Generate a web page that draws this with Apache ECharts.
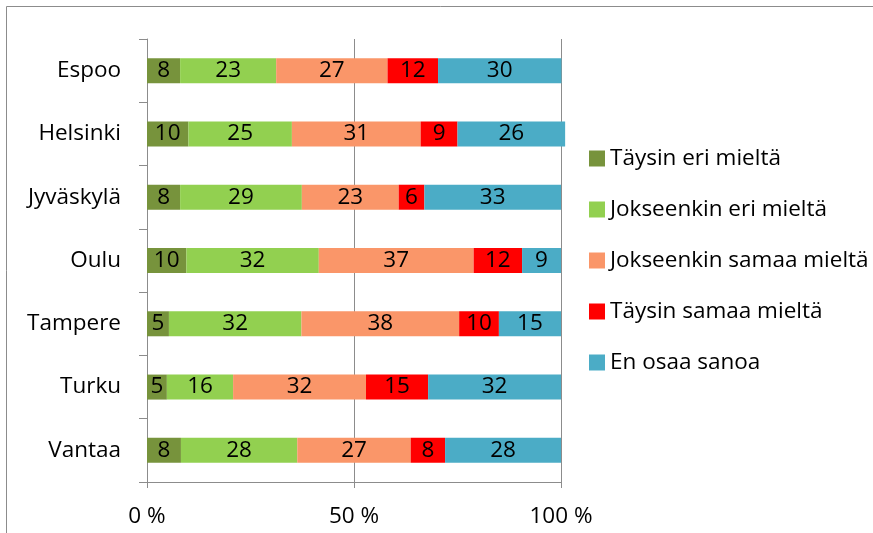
<!DOCTYPE html>
<html>
<head>
<meta charset="utf-8">
<script src="https://cdn.jsdelivr.net/npm/echarts@6/dist/echarts.min.js"></script>
<style>
  html, body { margin: 0; padding: 0; background: #fff; }
  #chart { width: 873px; height: 533px; }
</style>
</head>
<body>
<div id="chart"></div>
<script>
const cities = ['Espoo', 'Helsinki', 'Jyväskylä', 'Oulu', 'Tampere', 'Turku', 'Vantaa']
const seriesNames = ['Täysin eri mieltä', 'Jokseenkin eri mieltä', 'Jokseenkin samaa mieltä', 'Täysin samaa mieltä', 'En osaa sanoa']
const colors = ['#77933c', '#92d050', '#fa9669', '#ff0000', '#4bacc6']

// shares per city (labels show rounded values)
const taysinEri = [8.0, 10.0, 8.0, 9.5, 5.3, 4.8, 8.2]
const jokseenkinEri = [23.2, 25.0, 29.4, 32.0, 32.0, 16.0, 28.1]
const jokseenkinSamaa = [26.9, 31.1, 23.4, 37.4, 38.1, 32.1, 27.4]
const taysinSamaa = [12.2, 8.9, 6.2, 11.7, 9.6, 15.0, 8.3]
const enOsaa = [29.8, 26.0, 33.0, 9.4, 15.0, 32.1, 28.0]
const xTicks = [0, 50, 100]

const fontFamily = '"Open Sans", sans-serif'
const fontSize = 22.5
const values = [taysinEri, jokseenkinEri, jokseenkinSamaa, taysinSamaa, enOsaa]

const chart = echarts.init(document.getElementById('chart'))
chart.setOption({
  animation: false,
  textStyle: { fontFamily },
  color: colors,
  graphic: [{
    type: 'rect',
    shape: { x: 6.5, y: 6.5, width: 900, height: 600 },
    style: { fill: 'none', stroke: '#8c8c8c', lineWidth: 1 },
    silent: true
  }],
  grid: { left: 147, right: 312, top: 39, bottom: 51 },
  legend: {
    orient: 'vertical',
    left: 584,
    top: 142,
    icon: 'rect',
    itemWidth: 16,
    itemHeight: 16,
    itemGap: 28,
    data: seriesNames,
    textStyle: { fontFamily, fontSize, color: '#000', lineHeight: 22 }
  },
  xAxis: {
    type: 'value',
    min: xTicks[0],
    max: xTicks[xTicks.length - 1],
    interval: 50,
    axisLine: { show: true, lineStyle: { color: '#8c8c8c', width: 1 } },
    axisTick: { show: true, length: 6, lineStyle: { color: '#8c8c8c' } },
    splitLine: { show: true, lineStyle: { color: '#8c8c8c', width: 1 } },
    axisLabel: { formatter: '{value} %', fontFamily, fontSize, color: '#000', margin: 23 }
  },
  yAxis: {
    type: 'category',
    inverse: true,
    data: cities,
    axisLine: { show: true, lineStyle: { color: '#8c8c8c', width: 1 } },
    axisTick: { show: true, length: 8, lineStyle: { color: '#8c8c8c' } },
    axisLabel: { fontFamily, fontSize, color: '#000', margin: 26 }
  },
  series: seriesNames.map((name, i) => ({
    name,
    type: 'bar',
    stack: 'total',
    barWidth: 25,
    clip: false,
    data: values[i],
    label: {
      show: true,
      position: 'inside',
      color: '#000',
      fontFamily,
      fontSize,
      formatter: (p) => Math.round(p.value)
    }
  }))
})
</script>
</body>
</html>
